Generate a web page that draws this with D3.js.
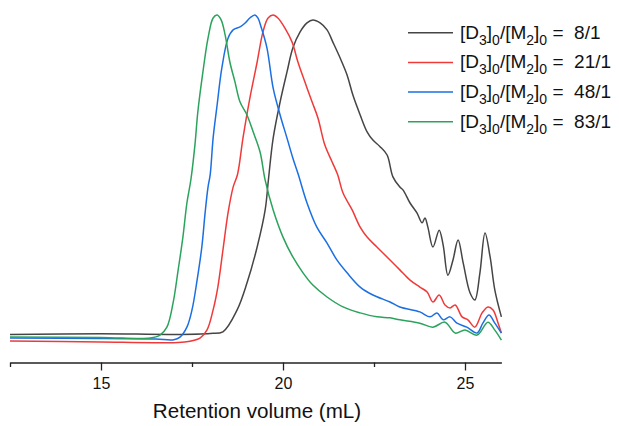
<!DOCTYPE html>
<html lang="en">
<head>
  <meta charset="UTF-8">
  <title>GPC traces</title>
  <script src="https://cdn.jsdelivr.net/npm/d3@7"></script>
  <style>
    body { margin: 0; background: #fff; }
    svg text { font-family: "Liberation Sans", Arial, sans-serif; fill: #111; }
  </style>
</head>
<body>
  <script>
    // retention volume (mL) vs normalised signal
    var ratios = ["8/1", "21/1", "48/1", "83/1"];
    var colors = ["#454545", "#f03a3a", "#1b6fe3", "#2ba35c"];

    var trace8 = [[12.5,3.2],[15,3.4],[17,3.2],[18,3.5],[18.35,4],[18.74,10.6],[19.01,18.7],[19.29,29.6],
      [19.51,40.8],[19.6,50],[19.73,62.5],[19.92,73.4],[20.11,82.5],[20.27,89.7],[20.47,94.6],[20.66,97.3],
      [20.82,98.2],[21.02,97.3],[21.21,95.2],[21.37,91.5],[21.57,86.7],[21.76,81.6],[21.92,75.5],[22.12,69.5],
      [22.31,64.4],[22.47,61.9],[22.66,60],[22.86,57.4],[23.02,50.8],[23.21,47.7],[23.3,46.8],[23.49,42.9],
      [23.68,39.9],[23.82,36.9],[23.9,38.4],[23.98,35.6],[24.12,29.6],[24.29,34.7],[24.4,30.2],[24.53,21.1],
      [24.67,25.7],[24.81,31.7],[24.95,24.8],[25.14,15.7],[25.27,13.6],[25.41,21.8],[25.55,33.8],[25.69,26.6],
      [25.82,16.6],[26,8.5]];
    var trace21 = [[12.5,1.2],[15,0.9],[16.5,0.7],[17.3,0.9],[17.72,2.1],[17.91,4.5],[18.08,10.6],[18.21,17.5],
      [18.35,28.7],[18.49,39.9],[18.63,47.7],[18.75,51.5],[18.9,62.5],[19.09,74.6],[19.29,85.5],[19.45,94.6],
      [19.59,98.8],[19.73,99.7],[19.86,98.8],[20.05,95.8],[20.25,91.5],[20.41,85.5],[20.6,79.5],[20.8,73.4],
      [20.96,68.6],[21.15,60.4],[21.35,55.3],[21.5,51.5],[21.65,45.9],[21.9,40.8],[22.12,35.6],[22.31,32.6],
      [22.58,29.6],[22.94,25.7],[23.21,22.7],[23.49,19.6],[23.76,17.5],[23.96,16],[24.12,13],[24.29,15.1],
      [24.45,12.1],[24.59,11.2],[24.73,12.1],[24.92,8.5],[25.08,7.6],[25.27,5.4],[25.47,9.7],[25.63,11.5],
      [25.77,10.6],[25.91,6.6],[26,3.6]];
    var trace48 = [[12.5,2.1],[15,2],[16.5,1.8],[17,1.6],[17.17,2.4],[17.36,5.4],[17.5,10.6],[17.64,19.6],
      [17.77,29.6],[17.86,39.9],[17.94,47.7],[18,51.5],[18.08,62.5],[18.19,72.5],[18.32,83.7],[18.49,92.7],
      [18.63,95.2],[18.82,96.1],[18.96,97.3],[19.09,98.8],[19.23,99.7],[19.31,98.8],[19.4,96],[19.56,89.7],
      [19.73,77.6],[19.92,69.5],[20.11,62.5],[20.27,56.5],[20.42,51.5],[20.66,42.9],[20.93,35.6],[21.21,30.8],
      [21.48,25.7],[21.76,21.8],[22.12,17.5],[22.47,15.1],[22.94,13],[23.21,11.5],[23.76,10],[24.04,8.5],
      [24.23,9.7],[24.4,7.6],[24.59,8.5],[24.78,6.6],[25.05,5.4],[25.33,3.6],[25.49,6.6],[25.66,9.1],
      [25.82,6.6],[26,3.6]];
    var trace83 = [[12.5,2.4],[15,2.3],[16.35,2.1],[16.62,3],[16.81,5.4],[16.98,12.7],[17.12,22.7],[17.25,32.6],
      [17.36,42.9],[17.47,50],[17.58,60.4],[17.66,70.4],[17.8,82.5],[17.94,92.7],[18.08,98.8],[18.19,99.7],
      [18.3,98.2],[18.41,93.7],[18.54,85.5],[18.68,79.5],[18.82,73.4],[19.01,69.5],[19.18,64.4],[19.37,58.3],
      [19.51,49.8],[19.73,40.8],[20,32.6],[20.27,26.6],[20.55,21.8],[20.82,18.1],[21.21,14.5],[21.65,11.5],
      [22.12,9.7],[22.58,8.5],[22.94,8.2],[23.21,7.6],[23.76,6.6],[24.12,5.4],[24.45,6.9],[24.73,3.6],
      [25,4.5],[25.33,3],[25.63,6.9],[25.82,4.5],[26,1.5]];
    var traces = [trace8, trace21, trace48, trace83];

    var majorTicks = [15, 20, 25],
        minorTicks = [12.5, 17.5, 22.5];

    var width = 619, height = 426;

    var svg = d3.select("body").append("svg")
                .attr("width", width)
                .attr("height", height);

    var x = d3.scaleLinear().domain([12.5, 26]).range([10, 501.4]);
    var y = d3.scaleLinear().domain([0, 100]).range([345, 14]);

    var line = d3.line()
                 .x(function(d) { return x(d[0]); })
                 .y(function(d) { return y(d[1]); })
                 .curve(d3.curveCatmullRom.alpha(0.5));

    svg.selectAll("path.trace")
       .data(traces)
       .enter()
       .append("path")
        .attr("class", "trace")
        .attr("d", line)
        .attr("fill", "none")
        .attr("stroke", function(d, i) { return colors[i]; })
        .attr("stroke-width", 1.5)
        .attr("stroke-linejoin", "round");

    //x axis - major ticks with labels, then minor ones
    var axisY = 362.5;
    var gx = svg.append("g")
                .attr("transform", "translate(0," + axisY + ")")
                .call(d3.axisBottom(x).tickValues(majorTicks).tickSize(8).tickSizeOuter(0).tickPadding(7));
    gx.selectAll("text").attr("font-size", 16).attr("font-family", null).style("fill", "#111");
    gx.selectAll("line, path").attr("stroke", "#222").attr("stroke-width", 1.3);

    var gm = svg.append("g")
                .attr("transform", "translate(0," + axisY + ")")
                .call(d3.axisBottom(x).tickValues(minorTicks).tickSize(4.5).tickSizeOuter(0).tickFormat(""));
    gm.select(".domain").remove();
    gm.selectAll("line").attr("stroke", "#222").attr("stroke-width", 1.3);

    svg.append("text")
       .attr("x", 257)
       .attr("y", 418)
       .attr("text-anchor", "middle")
       .attr("font-size", 20.6)
       .text("Retention volume (mL)");

    //legend
    var leg = svg.selectAll("g.leg")
                 .data(ratios)
                 .enter()
                 .append("g")
                  .attr("class", "leg")
                  .attr("transform", function(d, i) { return "translate(408," + (32.7 + i * 29.7) + ")"; });

    leg.append("line")
       .attr("x1", 0).attr("x2", 45)
       .attr("stroke", function(d, i) { return colors[i]; })
       .attr("stroke-width", 1.5);

    var lt = leg.append("text")
                .attr("x", 52)
                .attr("y", 6)
                .attr("font-size", 19)
                .style("white-space", "pre");

    //pieces: [text, isSubscript]
    lt.each(function(d) {
      var t = d3.select(this);
      var parts = [["[D", 0], ["3", 1], ["]", 0], ["0", 1], ["/[M", 0], ["2", 1], ["]", 0], ["0", 1], [" =  " + d, 0]];
      var shift = 0;
      parts.forEach(function(p) {
        var dy = p[1] ? 6 - shift : -shift;
        shift = p[1] ? 6 : 0;
        t.append("tspan")
         .attr("dy", dy)
         .attr("font-size", p[1] ? 14 : 19)
         .text(p[0]);
      });
    });
  </script>
</body>
</html>
